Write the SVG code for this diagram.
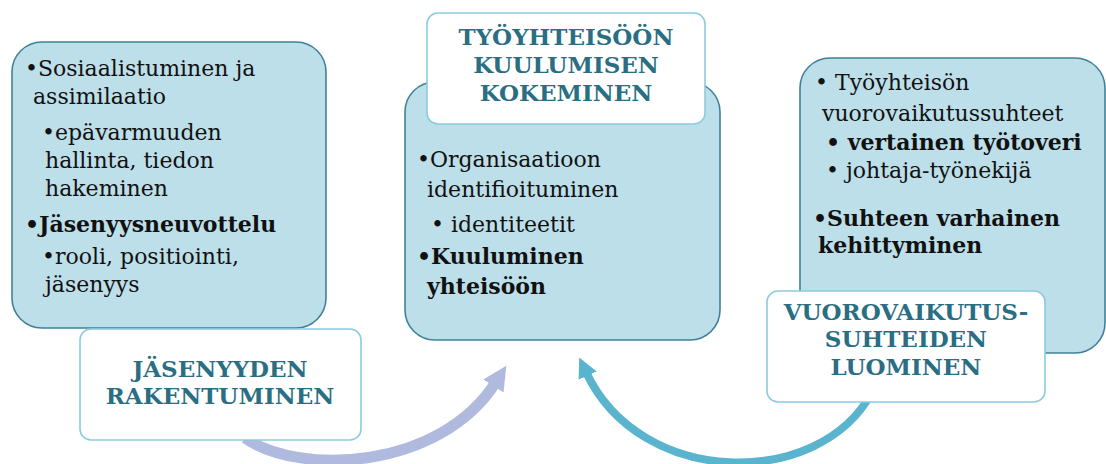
<svg xmlns="http://www.w3.org/2000/svg" width="1106" height="464" viewBox="0 0 1106 464">
  <style>
    .panel { fill: #bddfe9; stroke: #3f8297; stroke-width: 1.6; }
    .label { fill: #ffffff; stroke: #8bcbdf; stroke-width: 1.6; }
    .body { font-family: "DejaVu Serif", "Liberation Serif", serif; font-size: 22px; fill: #111111; }
    .b { font-weight: bold; }
    .title { font-family: "DejaVu Serif", "Liberation Serif", serif; font-size: 23px; font-weight: bold; fill: #2a6e83; text-anchor: middle; }
  </style>
  <defs>
    <marker id="headLav" viewBox="0 0 10 10" refX="2" refY="5" markerUnits="userSpaceOnUse" markerWidth="24" markerHeight="24" orient="auto">
      <path d="M0,0 L10,5 L0,10 Z" fill="#b0badf"/>
    </marker>
    <marker id="headTeal" viewBox="0 0 10 10" refX="2" refY="5" markerUnits="userSpaceOnUse" markerWidth="20" markerHeight="20" orient="auto">
      <path d="M0,0 L10,5 L0,10 Z" fill="#5ab4ce"/>
    </marker>
  </defs>

  <!-- curved connectors between the stages -->
  <g id="connectors" fill="none">
    <path d="M245,438 C300,476 440,470 496,382" stroke="#b0badf" stroke-width="11" marker-end="url(#headLav)"/>
    <path d="M872,392 C820,490 640,488 586,372" stroke="#5ab4ce" stroke-width="8" marker-end="url(#headTeal)"/>
  </g>

  <!-- left stage: membership building -->
  <g id="jasenyys-panel">
    <rect class="panel" x="12" y="42" width="314" height="286" rx="30"/>
    <text class="body" x="25" y="76">•Sosiaalistuminen ja</text>
    <text class="body" x="33" y="104">assimilaatio</text>
    <text class="body" x="42" y="140">•epävarmuuden</text>
    <text class="body" x="45" y="168">hallinta, tiedon</text>
    <text class="body" x="45" y="196">hakeminen</text>
    <text class="body b" x="25" y="232">•Jäsenyysneuvottelu</text>
    <text class="body" x="42" y="264">•rooli, positiointi,</text>
    <text class="body" x="45" y="292">jäsenyys</text>
  </g>
  <g id="jasenyys-label">
    <rect class="label" x="80" y="329" width="281" height="111" rx="11"/>
    <text class="title" x="220" y="377">JÄSENYYDEN</text>
    <text class="title" x="220" y="404">RAKENTUMINEN</text>
  </g>

  <!-- middle stage: sense of belonging -->
  <g id="kuuluminen-panel">
    <rect class="panel" x="405" y="82" width="315" height="258" rx="30"/>
    <text class="body" x="417" y="167">•Organisaatioon</text>
    <text class="body" x="427" y="197">identifioituminen</text>
    <text class="body" x="431" y="232">• identiteetit</text>
    <text class="body b" x="417" y="264">•Kuuluminen</text>
    <text class="body b" x="427" y="294">yhteisöön</text>
  </g>
  <g id="kuuluminen-label">
    <rect class="label" x="427" y="13" width="278" height="111" rx="11"/>
    <text class="title" x="566" y="45">TYÖYHTEISÖÖN</text>
    <text class="title" x="566" y="73">KUULUMISEN</text>
    <text class="title" x="566" y="101">KOKEMINEN</text>
  </g>

  <!-- right stage: building work relationships -->
  <g id="suhteet-panel">
    <rect class="panel" x="800" y="58" width="305" height="295" rx="30"/>
    <text class="body" x="815" y="90">• Työyhteisön</text>
    <text class="body" x="822" y="121">vuorovaikutussuhteet</text>
    <text class="body b" x="826" y="150">• vertainen työtoveri</text>
    <text class="body" x="826" y="178">• johtaja-työnekijä</text>
    <text class="body b" x="813" y="226">•Suhteen varhainen</text>
    <text class="body b" x="818" y="253">kehittyminen</text>
  </g>
  <g id="suhteet-label">
    <rect class="label" x="767" y="291" width="278" height="111" rx="11"/>
    <text class="title" x="906" y="320">VUOROVAIKUTUS-</text>
    <text class="title" x="906" y="347">SUHTEIDEN</text>
    <text class="title" x="906" y="375">LUOMINEN</text>
  </g>
</svg>
